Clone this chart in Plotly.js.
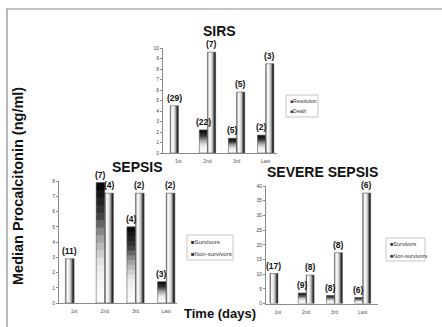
<!DOCTYPE html>
<html>
<head>
<meta charset="utf-8">
<script src="https://cdn.plot.ly/plotly-3.0.1.min.js"></script>
<style>
  html, body { margin: 0; padding: 0; background: #ffffff; }
  #chart { width: 442px; height: 327px; }
</style>
</head>
<body>
<div id="chart"></div>
<script>
// Time points shared by the three panels
const days = ['1st', '2nd', '3rd', 'Last'];

// SIRS: median procalcitonin (ng/ml) and number of patients per bar
const sirsResolution = [4.5, 2.2, 1.4, 1.7];
const sirsDeath = [null, 9.6, 5.8, 8.5];
const sirsResolutionN = [29, 22, 5, 2];
const sirsDeathN = [null, 7, 5, 3];

// Sepsis
const sepsisSurvivors = [2.9, 7.9, 5.0, 1.4];
const sepsisNonSurvivors = [null, 7.2, 7.2, 7.2];
const sepsisSurvivorsN = [11, 7, 4, 3];
const sepsisNonSurvivorsN = [null, 4, 2, 2];

// Severe sepsis
const severeSurvivors = [10.2, 3.6, 2.7, 2.0];
const severeNonSurvivors = [null, 9.7, 17.3, 37.6];
const severeSurvivorsN = [17, 9, 8, 6];
const severeNonSurvivorsN = [null, 8, 8, 6];

// ---- drawing setup ----
const W = 442, H = 327;
const px = v => v / W;           // pixel -> paper x
const py = v => 1 - v / H;       // pixel -> paper y
const FONT = 'Liberation Sans, Arial, DejaVu Sans, sans-serif';

const BAR_W = 0.28;              // bar width in category units

// grey ramp helper: stops are [position 0..1, grey level 0..255]
function greyRamp(stops, count) {
  const out = [];
  for (let i = 0; i < count; i++) {
    const t = count === 1 ? 0 : i / (count - 1);
    let a = stops[0], b = stops[stops.length - 1];
    for (let s = 0; s < stops.length - 1; s++) {
      if (t >= stops[s][0] && t <= stops[s + 1][0]) { a = stops[s]; b = stops[s + 1]; break; }
    }
    const f = b[0] === a[0] ? 0 : (t - a[0]) / (b[0] - a[0]);
    const g = Math.round(a[1] + (b[1] - a[1]) * f);
    out.push('rgb(' + g + ',' + g + ',' + g + ')');
  }
  return out;
}

const NH = 9;                    // strips across a bar
const NV = 16;                   // bands up a bar
// left-to-right shading: thin edge, white face, dark right side
const RAMP_H = ['#707070'].concat(greyRamp([[0, 250], [0.35, 236], [0.65, 165], [0.85, 60], [1, 18]], NH - 1));
// bottom-to-top shading: light base, dark top
const RAMP_V = greyRamp([[0, 253], [0.3, 235], [0.55, 160], [0.75, 60], [1, 10]], NV);
const GRAD_A = ['h', 'v', 'v', 'v'];
const GRAD_B = ['h', 'h', 'h', 'h'];

const panels = [
  {
    title: 'SIRS', tx: 219, ty: 31,
    left: 163, right: 277, bottom: 153, top: 48,
    xr: [-0.53, 3.39], yr: [0, 10], dtick: 1,
    series: [
      {name: 'Resolution', v: sirsResolution, n: sirsResolutionN},
      {name: 'Death', v: sirsDeath, n: sirsDeathN}
    ],
    legend: {x0: 286, x1: 318, y0: 95, y1: 117, rows: [100.5, 111.5], size: 5}
  },
  {
    title: 'SEPSIS', tx: 137, ty: 167,
    left: 59, right: 177, bottom: 303, top: 181,
    xr: [-0.49, 3.35], yr: [0, 8], dtick: 1,
    series: [
      {name: 'Survivors', v: sepsisSurvivors, n: sepsisSurvivorsN},
      {name: 'Non-survivors', v: sepsisNonSurvivors, n: sepsisNonSurvivorsN}
    ],
    legend: {x0: 187, x1: 233, y0: 235, y1: 260, rows: [241.5, 254], size: 6}
  },
  {
    title: 'SEVERE SEPSIS', tx: 322, ty: 172,
    left: 266, right: 378, bottom: 303.5, top: 186,
    xr: [-0.42, 3.54], yr: [0, 40], dtick: 5,
    series: [
      {name: 'Survivors', v: severeSurvivors, n: severeSurvivorsN},
      {name: 'Non-survivors', v: severeNonSurvivors, n: severeNonSurvivorsN}
    ],
    legend: {x0: 386, x1: 425, y0: 238, y1: 261, rows: [243.5, 255.5], size: 5.5}
  }
];

const traces = [];
const annotations = [];
const shapes = [];
const layout = {
  width: W, height: H,
  margin: {l: 0, r: 0, t: 0, b: 0},
  paper_bgcolor: '#ffffff',
  plot_bgcolor: 'rgba(0,0,0,0)',
  barmode: 'overlay',
  showlegend: false,
  font: {family: FONT, color: '#222'}
};

panels.forEach((p, pi) => {
  const sfx = pi === 0 ? '' : String(pi + 1);
  const xa = 'x' + sfx, ya = 'y' + sfx;

  layout['xaxis' + sfx] = {
    domain: [px(p.left), px(p.right)], anchor: ya,
    type: 'category', categoryorder: 'array', categoryarray: days,
    range: p.xr, showgrid: false, zeroline: false,
    showline: true, linecolor: '#8a8a8a', linewidth: 1,
    ticks: '', ticklabelstandoff: 3,
    tickfont: {family: FONT, size: 5, color: '#555'},
    fixedrange: true
  };
  layout['yaxis' + sfx] = {
    domain: [py(p.bottom), py(p.top)], anchor: xa,
    range: p.yr, tick0: 0, dtick: p.dtick,
    showgrid: false, zeroline: false,
    showline: true, linecolor: '#8a8a8a', linewidth: 1,
    ticks: 'outside', ticklen: 2, tickcolor: '#8a8a8a',
    tickfont: {family: FONT, size: 5, color: '#444'},
    fixedrange: true
  };

  p.series.forEach((s, si) => {
    const off = si === 0 ? -BAR_W : 0;
    const grad = si === 0 ? GRAD_A : GRAD_B;

    // shaded faces: vertical strips
    for (let k = 0; k < NH; k++) {
      const last = k === NH - 1;
      traces.push({
        type: 'bar', x: days, xaxis: xa, yaxis: ya,
        y: s.v.map((v, j) => grad[j] === 'h' ? v : null),
        offset: off + k * BAR_W / NH,
        width: BAR_W / NH * (last ? 1 : 1.6),
        marker: {color: RAMP_H[k], line: {width: 0}},
        showlegend: false, hoverinfo: 'skip'
      });
    }
    // shaded faces: horizontal bands
    for (let k = 0; k < NV; k++) {
      const last = k === NV - 1;
      traces.push({
        type: 'bar', x: days, xaxis: xa, yaxis: ya,
        y: s.v.map((v, j) => (grad[j] === 'v' && v != null) ? v / NV * (last ? 1 : 1.6) : null),
        base: s.v.map(v => v == null ? 0 : v * k / NV),
        offset: off, width: BAR_W,
        marker: {color: RAMP_V[k], line: {width: 0}},
        showlegend: false, hoverinfo: 'skip'
      });
    }
    // the series bars themselves (outline)
    traces.push({
      type: 'bar', name: s.name, x: days, y: s.v, xaxis: xa, yaxis: ya,
      offset: off, width: BAR_W,
      marker: {color: 'rgba(0,0,0,0)', line: {color: '#5a5a5a', width: 0.6}},
      hovertemplate: s.name + ' %{x}: %{y}<extra></extra>'
    });

    // patient counts above the bars
    s.v.forEach((v, j) => {
      if (v == null || s.n[j] == null) return;
      annotations.push({
        xref: xa, yref: ya, x: j + off + BAR_W / 2, y: v,
        text: '<b>(' + s.n[j] + ')</b>', showarrow: false,
        xanchor: 'center', yanchor: 'bottom', yshift: 1,
        font: {family: FONT, size: 8.5, color: '#111'}
      });
    });
  });

  // panel title
  annotations.push({
    xref: 'paper', yref: 'paper', x: px(p.tx), y: py(p.ty),
    text: '<b>' + p.title + '</b>', showarrow: false,
    xanchor: 'center', yanchor: 'middle', borderpad: 0,
    font: {family: FONT, size: 14, color: '#111'}
  });

  // legend box
  const lg = p.legend;
  shapes.push({
    type: 'rect', xref: 'paper', yref: 'paper',
    x0: px(lg.x0), x1: px(lg.x1), y0: py(lg.y1), y1: py(lg.y0),
    line: {color: '#b8b8b8', width: 0.8}, fillcolor: 'rgba(255,255,255,0)'
  });
  p.series.forEach((s, si) => {
    annotations.push({
      xref: 'paper', yref: 'paper', x: px(lg.x0 + 1.5), y: py(lg.rows[si]),
      text: '■' + s.name, showarrow: false,
      xanchor: 'left', yanchor: 'middle',
      font: {family: FONT, size: lg.size, color: '#333'}
    });
  });
});

// shared axis titles
annotations.push({
  xref: 'paper', yref: 'paper', x: px(18), y: py(186),
  text: '<b>Median Procalcitonin (ng/ml)</b>', textangle: -90, showarrow: false,
  xanchor: 'center', yanchor: 'middle',
  font: {family: FONT, size: 14.5, color: '#111'}
});
annotations.push({
  xref: 'paper', yref: 'paper', x: px(220), y: py(313),
  text: '<b>Time (days)</b>', showarrow: false,
  xanchor: 'center', yanchor: 'middle',
  font: {family: FONT, size: 13, color: '#111'}
});

// outer frame
shapes.push({
  type: 'rect', xref: 'paper', yref: 'paper',
  x0: px(7), x1: px(446), y0: py(331), y1: py(9),
  line: {color: '#8a8a8a', width: 1.2}, fillcolor: 'rgba(0,0,0,0)'
});

layout.annotations = annotations;
layout.shapes = shapes;

Plotly.newPlot('chart', traces, layout, {displayModeBar: false, staticPlot: true});
</script>
</body>
</html>
